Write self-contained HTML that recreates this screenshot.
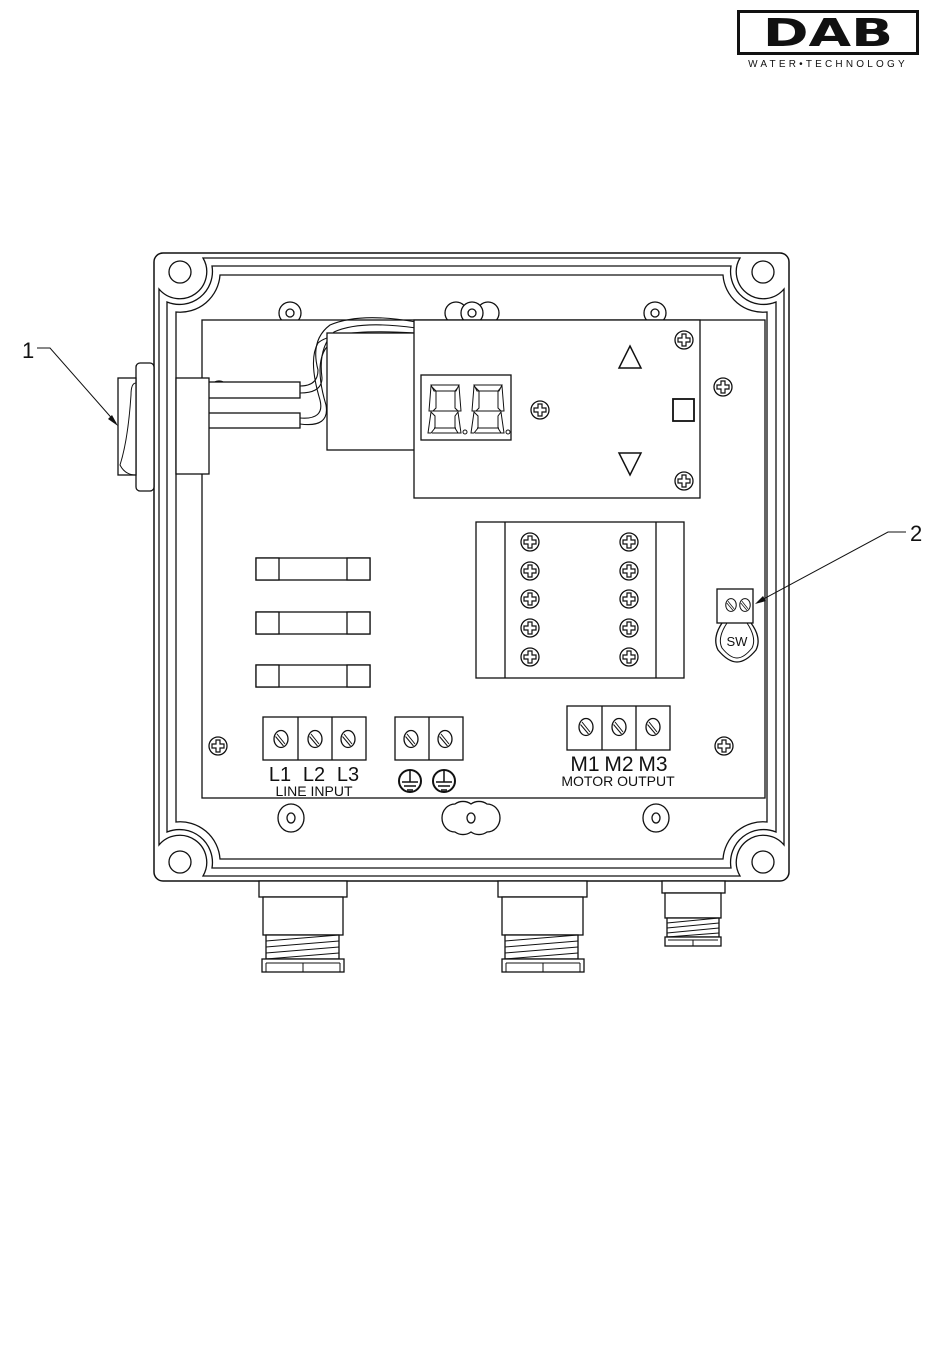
<!DOCTYPE html>
<html><head><meta charset="utf-8"><style>
html,body{margin:0;padding:0;background:#fff;}
svg{display:block;}
text{font-family:"Liberation Sans",sans-serif;fill:#111;}
</style></head><body>
<svg width="950" height="1370" viewBox="0 0 950 1370" xmlns="http://www.w3.org/2000/svg">
<defs>
<g id="ph"><circle r="9" fill="#fff" stroke="#111" stroke-width="1.3"/><path d="M-2,-6 h4 v4 h4 v4 h-4 v4 h-4 v-4 h-4 v-4 h4z" fill="none" stroke="#111" stroke-width="1.2"/></g>
<g id="sl"><ellipse rx="7" ry="8.5" fill="#fff" stroke="#111" stroke-width="1.3"/><path d="M-4,-5 L4,5 M-5.5,-2.5 L2.5,7" stroke="#111" stroke-width="1"/></g>
<g id="q" fill="none" stroke="#111" stroke-width="1.3">
<path d="M471.5,258 L203,258 A27,27 0 0 1 159,289 L159,567"/>
<path d="M471.5,266 L212,266 A33,33 0 0 1 167,302 L167,567"/>
<path d="M471.5,275 L220,275 A40,40 0 0 1 176,312 L176,567"/>
<circle cx="180" cy="272" r="11"/>
</g>
</defs>

<!-- logo -->
<rect x="738.5" y="11.5" width="179" height="42" fill="#fff" stroke="#111" stroke-width="3"/>
<text x="828" y="46" text-anchor="middle" font-size="38" font-weight="bold" transform="translate(828 0) scale(1.45 1) translate(-828 0)" style="font-family:'DejaVu Sans',sans-serif">DAB</text>
<text x="828" y="67" text-anchor="middle" font-size="10" letter-spacing="3.2">WATER•TECHNOLOGY</text>

<!-- outer box -->
<rect x="154" y="253" width="635" height="628" rx="9" fill="#fff" stroke="#111" stroke-width="1.5"/>
<use href="#q"/>
<use href="#q" transform="translate(943 0) scale(-1 1)"/>
<use href="#q" transform="translate(0 1134) scale(1 -1)"/>
<use href="#q" transform="translate(943 1134) scale(-1 -1)"/>

<!-- bosses top -->
<g fill="#fff" stroke="#111" stroke-width="1.3">
<circle cx="290" cy="313" r="11"/><circle cx="290" cy="313" r="4"/>
<circle cx="655" cy="313" r="11"/><circle cx="655" cy="313" r="4"/>
<circle cx="456" cy="313" r="11"/><circle cx="488" cy="313" r="11"/><circle cx="472" cy="313" r="11"/><circle cx="472" cy="313" r="4"/>
</g>

<!-- PCB -->
<rect x="202" y="320" width="563" height="478" fill="#fff" stroke="#111" stroke-width="1.3"/>

<!-- bottom bosses -->
<g fill="#fff" stroke="#111" stroke-width="1.3">
<ellipse cx="291" cy="818" rx="13" ry="14"/><ellipse cx="291" cy="818" rx="4" ry="5"/>
<ellipse cx="656" cy="818" rx="13" ry="14"/><ellipse cx="656" cy="818" rx="4" ry="5"/>
<path d="M455,804 A13,14 0 0 0 455,832 A13,12 0 0 0 471,832 A13,12 0 0 0 487,832 A13,14 0 0 0 487,804 A13,12 0 0 0 471,804 A13,12 0 0 0 455,804Z"/>
<ellipse cx="471" cy="818" rx="4" ry="5"/>
</g>

<!-- switch item 1 -->
<g fill="#fff" stroke="#111" stroke-width="1.3">
<rect x="136" y="363" width="18" height="128" rx="4"/>
<rect x="118" y="378" width="18" height="97"/>
<path d="M136,383 Q131,383 131,395 Q128,440 120,465 Q125,475 136,475" fill="none" stroke-width="1"/>
</g>

<!-- wires -->
<g fill="none" stroke="#111" stroke-width="1.1">
<path d="M300,386 Q318,386 318,370 Q310,340 330,325 Q360,312 416,322"/>
<path d="M300,393 Q322,393 322,378 Q318,348 334,332 Q360,320 416,328"/>
<path d="M300,418 Q325,420 320,400 Q308,360 318,343 Q335,328 416,333"/>
<path d="M300,424 Q330,428 326,405 Q314,365 326,348 Q340,334 416,338"/>
</g>
<!-- transformer -->
<rect x="327" y="333" width="88" height="117" fill="#fff" stroke="#111" stroke-width="1.3"/>
<!-- rods & bracket -->
<g fill="#fff" stroke="#111" stroke-width="1.3">
<circle cx="219" cy="389" r="8"/>
<rect x="207" y="382" width="93" height="16"/>
<rect x="207" y="413" width="93" height="15"/>
<rect x="176" y="378" width="33" height="96"/>
</g>

<!-- display board -->
<rect x="414" y="320" width="286" height="178" fill="#fff" stroke="#111" stroke-width="1.3"/>
<rect x="421" y="375" width="90" height="65" fill="#fff" stroke="#111" stroke-width="1.3"/>
<g fill="none" stroke="#111" stroke-width="1">
<g id="dg">
<path d="M431,385 h28 l-3,6 h-22z M431,386 l5,5 v17 l-3,3 h-4z M459,386 l-4,5 v17 l3,3 h3z M430,411 h29 M431,412 l4,4 v12 l-4,5 h-3z M458,412 l-3,4 v12 l3,5 h3z M432,433 h26 M434,428 h22"/>
<circle cx="465" cy="432" r="2"/>
</g>
<use href="#dg" transform="translate(43 0)"/>
</g>
<use href="#ph" x="540" y="410"/>
<path d="M630,346 L641,368 L619,368Z" fill="none" stroke="#111" stroke-width="1.5"/>
<path d="M630,475 L641,453 L619,453Z" fill="none" stroke="#111" stroke-width="1.5"/>
<rect x="673" y="399" width="21" height="22" fill="none" stroke="#111" stroke-width="1.8"/>
<use href="#ph" x="684" y="340"/>
<use href="#ph" x="684" y="481"/>
<use href="#ph" x="723" y="387"/>

<!-- fuses -->
<g fill="#fff" stroke="#111" stroke-width="1.3">
<rect x="256" y="558" width="114" height="22"/><rect x="256" y="558" width="23" height="22"/><rect x="347" y="558" width="23" height="22"/>
<rect x="256" y="612" width="114" height="22"/><rect x="256" y="612" width="23" height="22"/><rect x="347" y="612" width="23" height="22"/>
<rect x="256" y="665" width="114" height="22"/><rect x="256" y="665" width="23" height="22"/><rect x="347" y="665" width="23" height="22"/>
</g>

<!-- terminal block -->
<rect x="476" y="522" width="208" height="156" fill="#fff" stroke="#111" stroke-width="1.3"/>
<path d="M505,522 V678 M656,522 V678" stroke="#111" stroke-width="1.3"/>
<use href="#ph" x="530" y="542"/><use href="#ph" x="629" y="542"/>
<use href="#ph" x="530" y="571"/><use href="#ph" x="629" y="571"/>
<use href="#ph" x="530" y="599"/><use href="#ph" x="629" y="599"/>
<use href="#ph" x="530" y="628"/><use href="#ph" x="629" y="628"/>
<use href="#ph" x="530" y="657"/><use href="#ph" x="629" y="657"/>

<!-- SW -->
<path d="M722,623 Q712,638 718,650 Q728,662 737,662 Q746,662 756,650 Q762,638 751,623" fill="none" stroke="#111" stroke-width="1.3"/>
<path d="M727,623 Q717,638 722,648 Q730,658 737,658 Q744,658 752,648 Q757,638 747,623" fill="none" stroke="#111" stroke-width="1"/>
<rect x="717" y="589" width="36" height="34" fill="#fff" stroke="#111" stroke-width="1.3"/>
<g transform="translate(731 605) scale(0.75)"><use href="#sl"/></g>
<g transform="translate(745 605) scale(0.75)"><use href="#sl"/></g>
<text x="737" y="646" text-anchor="middle" font-size="13">SW</text>

<!-- terminals -->
<g fill="#fff" stroke="#111" stroke-width="1.3">
<rect x="263" y="717" width="103" height="43"/><path d="M298,717 V760 M332,717 V760" fill="none"/>
<rect x="395" y="717" width="68" height="43"/><path d="M429,717 V760" fill="none"/>
<rect x="567" y="706" width="103" height="44"/><path d="M602,706 V750 M636,706 V750" fill="none"/>
</g>
<use href="#sl" x="281" y="739"/><use href="#sl" x="315" y="739"/><use href="#sl" x="348" y="739"/>
<use href="#sl" x="411" y="739"/><use href="#sl" x="445" y="739"/>
<use href="#sl" x="586" y="727"/><use href="#sl" x="619" y="727"/><use href="#sl" x="653" y="727"/>
<use href="#ph" x="218" y="746"/><use href="#ph" x="724" y="746"/>
<text x="280" y="781" text-anchor="middle" font-size="20">L1</text>
<text x="314" y="781" text-anchor="middle" font-size="20">L2</text>
<text x="348" y="781" text-anchor="middle" font-size="20">L3</text>
<text x="314" y="796" text-anchor="middle" font-size="14">LINE INPUT</text>
<g fill="none" stroke="#111" stroke-width="2">
<circle cx="410" cy="781" r="11"/><circle cx="444" cy="781" r="11"/>
<path d="M410,771 V782 M402,782 H418 M404,786 H416 M407,790 H413 M444,771 V782 M436,782 H452 M438,786 H450 M441,790 H447" stroke-width="1.5"/>
</g>
<text x="585" y="771" text-anchor="middle" font-size="21">M1</text>
<text x="619" y="771" text-anchor="middle" font-size="21">M2</text>
<text x="653" y="771" text-anchor="middle" font-size="21">M3</text>
<text x="618" y="786" text-anchor="middle" font-size="14">MOTOR OUTPUT</text>

<!-- glands -->
<g fill="#fff" stroke="#111" stroke-width="1.3">
<rect x="259" y="881" width="88" height="16"/><rect x="263" y="897" width="80" height="38"/>
<rect x="266" y="935" width="73" height="24"/>
<path d="M266,941 L339,935 M266,947 L339,941 M266,953 L339,947 M266,959 L339,953" fill="none" stroke-width="1"/>
<rect x="262" y="959" width="82" height="13"/><path d="M266,963 H340 M303,963 V972 M266,963 V972 M340,963 V972" fill="none" stroke-width="1"/>

<rect x="498" y="881" width="89" height="16"/><rect x="502" y="897" width="81" height="38"/>
<rect x="505" y="935" width="73" height="24"/>
<path d="M505,941 L578,935 M505,947 L578,941 M505,953 L578,947 M505,959 L578,953" fill="none" stroke-width="1"/>
<rect x="502" y="959" width="82" height="13"/><path d="M506,963 H580 M543,963 V972 M506,963 V972 M580,963 V972" fill="none" stroke-width="1"/>

<rect x="662" y="881" width="63" height="12"/><rect x="665" y="893" width="56" height="25"/>
<rect x="667" y="918" width="52" height="19"/>
<path d="M667,923 L719,918 M667,928 L719,923 M667,933 L719,928 M667,937 L719,933" fill="none" stroke-width="1"/>
<rect x="665" y="937" width="56" height="9"/><path d="M693,940 V946 M668,940 H718" fill="none" stroke-width="1"/>
</g>

<!-- callouts -->
<text x="22" y="358" font-size="22">1</text>
<path d="M37,348 H50 L116,423" fill="none" stroke="#111" stroke-width="1"/>
<path d="M118,426 L108,419 L112,415Z" fill="#111"/>
<text x="910" y="541" font-size="22">2</text>
<path d="M906,532 H888 L758,602" fill="none" stroke="#111" stroke-width="1"/>
<path d="M755,604 L763,596 L766,601Z" fill="#111"/>
</svg>
</body></html>
